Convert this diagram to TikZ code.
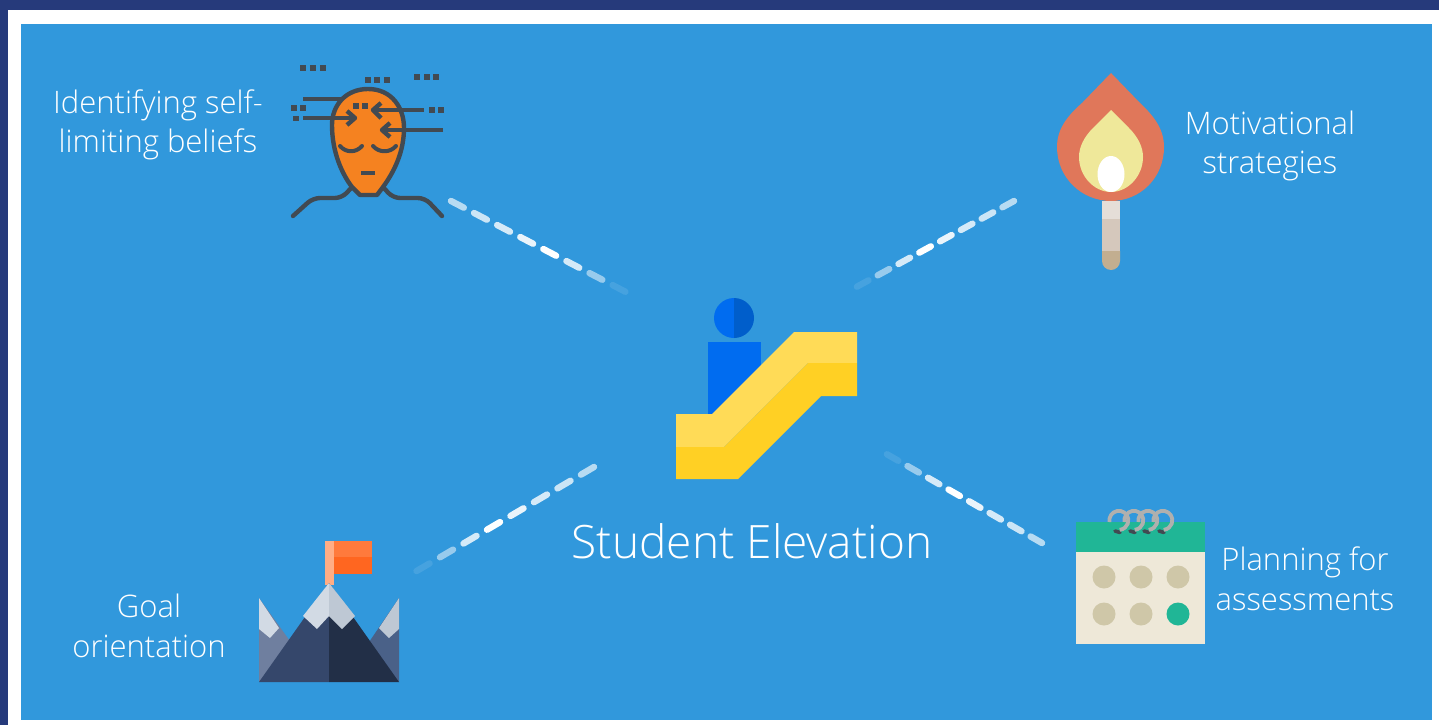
\documentclass[tikz,border=0pt]{standalone}
\usepackage{fontspec}
\setmainfont{Open Sans}[UprightFont=* Light]
\usepackage{tikz}
\usetikzlibrary{calc}
\definecolor{navy}{HTML}{263A7B}
\definecolor{sky}{HTML}{3198DC}
\definecolor{slate}{HTML}{424A52}
\definecolor{skin}{HTML}{F58220}
\definecolor{peel}{HTML}{E0775A}
\definecolor{lemon}{HTML}{EFE89A}
\definecolor{teal}{HTML}{20B696}
\definecolor{cream}{HTML}{EEE8D8}
\definecolor{spot}{HTML}{CFC7A8}
\definecolor{ringgray}{HTML}{B0B0AE}
\definecolor{stepa}{HTML}{FFDB57}
\definecolor{stepb}{HTML}{FFD024}
\definecolor{ridera}{HTML}{006CF0}
\definecolor{riderb}{HTML}{005ECB}
\definecolor{sticka}{HTML}{E5DED8}
\definecolor{stickb}{HTML}{D5C8BC}
\definecolor{stickc}{HTML}{C2AE90}
\definecolor{pole}{HTML}{FFAD85}
\definecolor{flaga}{HTML}{FF7A3C}
\definecolor{flagb}{HTML}{FF6620}
\definecolor{rocka}{HTML}{35476B}
\definecolor{rockb}{HTML}{222F47}
\definecolor{rockc}{HTML}{6F7F9F}
\definecolor{rockd}{HTML}{4A6188}
\definecolor{snowa}{HTML}{D2DAE4}
\definecolor{snowb}{HTML}{BEC8D4}
\newcommand{\dashrun}[2]{%
  \foreach \dashpos/\dashop in {0/.65,.135/.75,.27/.8,.405/.9,.54/1,.675/.8,.81/.5,.945/.1}
    \draw[dashline,opacity=\dashop] ($(#1)!\dashpos!(#2)$) -- ($(#1)!\dashpos+.075!(#2)$);
}
\begin{document}
\begin{tikzpicture}[x=1pt,y=-1pt,line join=round]
\tikzstyle{tag}=[text=white,align=center,inner sep=0pt,font=\fontsize{31}{39.5}\selectfont]
\tikzstyle{dashline}=[white,line width=6.4pt,line cap=round]
\tikzstyle{outline}=[slate,line width=4.4pt]
\useasboundingbox (0,0) rectangle (1439,725);
\fill[white] (0,0) rectangle (1439,725);
\fill[navy] (0,0) rectangle (1439,10);
\fill[navy] (0,0) rectangle (8,725);
\fill[sky] (21,24) rectangle (1432,720);

\node[tag] (beliefs) at (158,125) {Identifying self-\\limiting beliefs};
\node[tag] (motive) at (1270,146) {Motivational\\strategies};
\node[tag] (goal) at (149,626) {Goal\\orientation};
\node[tag] (assess) at (1305,579) {Planning for\\assessments};
\node[text=white,inner sep=0pt,font=\fontsize{46}{52}\selectfont] (elevation) at (752,541) {Student Elevation};

\coordinate (beliefsend) at (451,201);
\coordinate (beliefshub) at (622,290);
\coordinate (motiveend) at (1014,201);
\coordinate (motivehub) at (860,285);
\coordinate (goalend) at (594,467);
\coordinate (goalhub) at (420,569);
\coordinate (assessend) at (1042,543);
\coordinate (assesshub) at (890,456);
\dashrun{beliefsend}{beliefshub}
\dashrun{motiveend}{motivehub}
\dashrun{goalend}{goalhub}
\dashrun{assessend}{assesshub}

\fill[ridera] (708,342) rectangle (761,416);
\fill[ridera] (734,338) arc[start angle=90,end angle=270,radius=20];
\fill[riderb] (734,338) arc[start angle=90,end angle=-90,radius=20];
\fill[stepa] (676,414) -- (712,414) -- (794,332) -- (857,332) -- (857,363) -- (808,363) -- (724,447) -- (676,447) -- cycle;
\fill[stepb] (676,447) -- (724,447) -- (808,363) -- (857,363) -- (857,396) -- (821,396) -- (738,479) -- (676,479) -- cycle;

\draw[outline,line cap=round,rounded corners=7pt] (293,216) -- (313,198) -- (342,198) -- (352,187);
\draw[outline,line cap=round,rounded corners=7pt] (442,216) -- (425,198) -- (393,198) -- (383,187);
\draw[outline,fill=skin] (368,89) .. controls (392,89) and (404,108) .. (404,128) .. controls (404,152) and (394,172) .. (383,187) -- (377,195) -- (360,195) -- (352,187) .. controls (342,174) and (332,152) .. (332,125) .. controls (332,105) and (346,89) .. (368,89) -- cycle;
\draw[outline,line width=4pt,line cap=round] (340,146) .. controls (346,153) and (356,153) .. (362,146);
\draw[outline,line width=4pt,line cap=round] (373,146) .. controls (379,153) and (390,153) .. (396,146);
\draw[outline] (361,173) -- (375,173);
\draw[outline] (303,99) -- (342,99);
\draw[outline] (303,118) -- (354,118);
\draw[outline] (424,110) -- (375,110);
\draw[outline] (443,130) -- (384,130);
\draw[outline] (347,111) -- (355,118) -- (347,125);
\draw[outline] (381,103) -- (373,110) -- (381,118);
\draw[outline] (390,123) -- (382,130) -- (390,137);
\foreach \dotx/\doty in {303/68,313/68,323/68,368/80,377/80,387/80,417/77,427/77,436/77,294/108,303/108,356/106,365/106,432/110,441/110}
  \fill[slate] (\dotx-2.6,\doty-2.6) rectangle (\dotx+2.6,\doty+2.6);
\fill[slate] (293,115.5) rectangle (299,120.5);

\fill[peel] (1111,73) -- (1140,103) .. controls (1155,117) and (1164,130) .. (1164,147) .. controls (1164,178) and (1140,201) .. (1111,201) .. controls (1082,201) and (1057,178) .. (1057,147) .. controls (1057,130) and (1066,117) .. (1082,103) -- cycle;
\fill[lemon] (1111,110) -- (1129,128) .. controls (1138,137) and (1143,147) .. (1143,157) .. controls (1143,176) and (1128,192) .. (1111,192) .. controls (1094,192) and (1079,176) .. (1079,157) .. controls (1079,147) and (1084,137) .. (1093,128) -- cycle;
\fill[white] (1111,156) .. controls (1119,156) and (1124.5,165) .. (1124.5,174) .. controls (1124.5,185) and (1118,192) .. (1111,192) .. controls (1104,192) and (1097.5,185) .. (1097.5,174) .. controls (1097.5,165) and (1103,156) .. (1111,156) -- cycle;
\fill[sticka] (1102,201) rectangle (1120,219);
\fill[stickb] (1102,219) rectangle (1120,251);
\fill[stickc] (1102,251) -- (1120,251) -- (1120,261) arc[start angle=0,end angle=180,radius=9] -- cycle;

\fill[pole] (325,541) rectangle (334,585);
\fill[flaga] (334,541) rectangle (372,557);
\fill[flagb] (334,557) rectangle (372,574);
\fill[rockc] (259,598) -- (295,648) -- (259,682) -- cycle;
\fill[rockd] (399,598) -- (365,648) -- (399,682) -- cycle;
\fill[snowa] (259,598) -- (279,628) -- (270,638) -- (259,629) -- cycle;
\fill[snowb] (399,598) -- (379,628) -- (389,638) -- (399,629) -- cycle;
\fill[rocka] (329,583) -- (259,682) -- (329,682) -- cycle;
\fill[rockb] (329,583) -- (399,682) -- (329,682) -- cycle;
\fill[snowa] (329,583) -- (303,616) -- (317,629) -- (329,616) -- cycle;
\fill[snowb] (329,583) -- (355,616) -- (342,629) -- (329,616) -- cycle;

\fill[cream] (1076,552) rectangle (1205,644);
\fill[teal] (1076,522) rectangle (1205,552);
\foreach \spotx/\spoty in {1104/577,1141/577,1178/577,1104/614,1141/614}
  \fill[spot] (\spotx,\spoty) circle (11.5);
\fill[teal] (1178,614) circle (11.5);
\foreach \ringx in {1118,1133,1147,1162} {
  \draw[slate,line width=3.6pt,line cap=round] (\ringx-3,531) -- (\ringx+2,532.5);
  \draw[ringgray,line width=3.8pt] (\ringx-8.5,522) arc[start angle=170,end angle=445,radius=9.5];
}
\end{tikzpicture}
\end{document}
